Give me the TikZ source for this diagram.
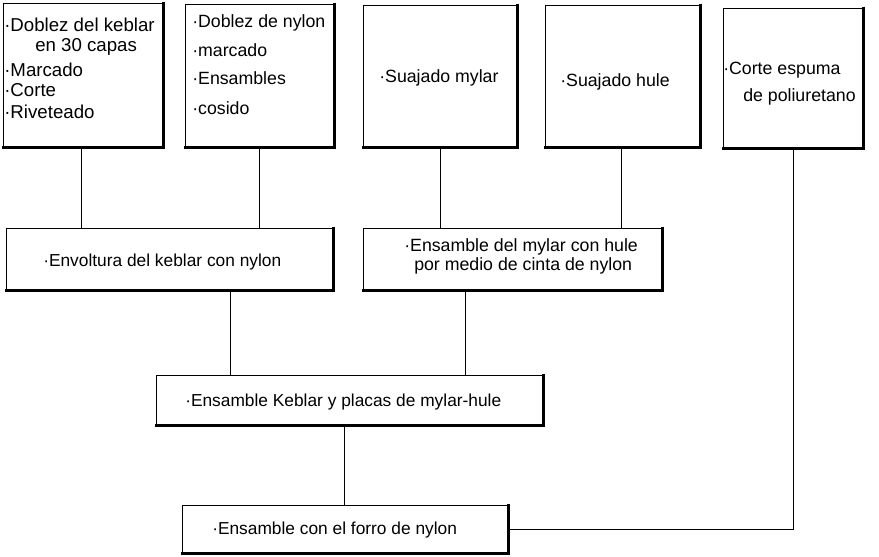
\documentclass[tikz,border=0pt]{standalone}
\usepackage{fontspec}
\setmainfont{Liberation Sans}
\usetikzlibrary{fit}
\newcommand\boxedge[1]{\draw[line width=1.9pt] ([yshift=0.6pt]#1.north east) -- (#1.south east) -- ([xshift=-0.6pt]#1.south west);}
\begin{document}
\begin{tikzpicture}[x=0.75pt,y=-0.75pt,
  box/.style={draw, line width=0.7pt, inner sep=0pt},
  lbl/.style={anchor=west, inner sep=0pt, font=\fontsize{13.3}{16}\selectfont},
  big/.style={font=\fontsize{14}{16}\selectfont},
  small/.style={font=\fontsize{13}{15}\selectfont},
  link/.style={line width=0.7pt}]
\useasboundingbox (0,0) rectangle (879,557);
% boxes
\node[box, fit={(3,3)(163,147)}] (b1) {};
\node[box, fit={(185,4)(334,147)}] (b2) {};
\node[box, fit={(363,5)(517,147)}] (b3) {};
\node[box, fit={(545,5)(700,147)}] (b4) {};
\node[box, fit={(723,8)(863,148)}] (b5) {};
\node[box, fit={(6,228)(333,290)}] (env) {};
\node[box, fit={(363,228)(662,290)}] (myl) {};
\node[box, fit={(156,375)(543,425)}] (keb) {};
\node[box, fit={(182,505)(508,553)}] (forro) {};
\foreach \n in {b1,b2,b3,b4,b5,env,myl,keb,forro}{\boxedge{\n}}
% texts
\node[lbl, big] (t1a) at (4,25) {·Doblez del keblar};
\node[lbl, big] (t1b) at (35,47) {en 30 capas};
\node[lbl, big] (t1c) at (4,70) {·Marcado};
\node[lbl, big] (t1d) at (4,90) {·Corte};
\node[lbl, big] (t1e) at (4,112) {·Riveteado};
\node[lbl] (t2a) at (192,23) {·Doblez de nylon};
\node[lbl] (t2b) at (192,50) {·marcado};
\node[lbl] (t2c) at (192,78) {·Ensambles};
\node[lbl] (t2d) at (192,108) {·cosido};
\node[lbl] (t3) at (379,78) {·Suajado mylar};
\node[lbl] (t4) at (560,82) {·Suajado hule};
\node[lbl] (t5a) at (723,70) {·Corte espuma};
\node[lbl] (t5b) at (743,97) {de poliuretano};
\node[lbl, small] (tenv) at (43,262) {·Envoltura del keblar con nylon};
\node[lbl] (tmyla) at (404,247) {·Ensamble del mylar con hule};
\node[lbl] (tmylb) at (414,266) {por medio de cinta de nylon};
\node[lbl, small] (tkeb) at (185,402) {·Ensamble Keblar y placas de mylar-hule};
\node[lbl, small] (tforro) at (212,530) {·Ensamble con el forro de nylon};
% connector x positions
\coordinate (x1) at (81,0);
\coordinate (x2) at (259,0);
\coordinate (x3) at (440,0);
\coordinate (x4) at (621,0);
\coordinate (x5) at (230,0);
\coordinate (x6) at (465,0);
\coordinate (x7) at (344,0);
\coordinate (x8) at (793,0);
% connectors
\draw[link] (x1 |- b1.south) -- (x1 |- env.north);
\draw[link] (x2 |- b2.south) -- (x2 |- env.north);
\draw[link] (x3 |- b3.south) -- (x3 |- myl.north);
\draw[link] (x4 |- b4.south) -- (x4 |- myl.north);
\draw[link] (x5 |- env.south) -- (x5 |- keb.north);
\draw[link] (x6 |- myl.south) -- (x6 |- keb.north);
\draw[link] (x7 |- keb.south) -- (x7 |- forro.north);
\draw[link] (x8 |- b5.south) |- (forro.east);
\end{tikzpicture}
\end{document}
